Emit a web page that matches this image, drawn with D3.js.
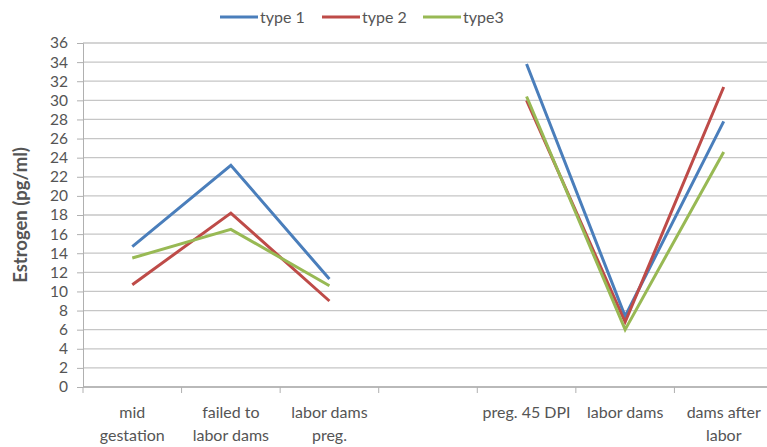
<!DOCTYPE html>
<html>
<head>
<meta charset="utf-8">
<script src="https://cdnjs.cloudflare.com/ajax/libs/d3/7.8.5/d3.min.js"></script>
<style>
  body { margin: 0; background: #fff; }
  text { font-family: Lato, "Open Sans", sans-serif; fill: #555; }
</style>
</head>
<body>
<script>
// categories (the blank one is the gap between the two groups)
var categories = ["mid\ngestation", "failed to\nlabor dams", "labor dams\npreg.", "", "preg. 45 DPI", "labor dams", "dams after\nlabor"];
var type1 = [14.7, 23.2, 11.3, null, 33.8, 7.4, 27.8];
var type2 = [10.7, 18.2, 9.0, null, 30.0, 6.8, 31.4];
var type3 = [13.5, 16.5, 10.6, null, 30.4, 6.0, 24.6];
var seriesNames = ["type 1", "type 2", "type3"];
var colors = ["#4a7ebb", "#be4b48", "#98b954"];
var yTicks = d3.range(0, 37, 2);

var W = 767, H = 447;
var margin = {top: 43, right: -6, bottom: 60, left: 83};
var width = W - margin.left - margin.right,
    height = H - margin.top - margin.bottom;

var svg = d3.select("body").append("svg").attr("width", W).attr("height", H);
var g = svg.append("g").attr("transform", "translate(" + margin.left + "," + margin.top + ")");

var x = d3.scaleBand().domain(d3.range(categories.length)).range([0, width]).padding(0);
var y = d3.scaleLinear().domain([0, 36]).range([height, 0]);

// gridlines
g.selectAll(".grid").data(yTicks).enter().append("line")
    .attr("x1", 0).attr("x2", width)
    .attr("y1", function(d) { return y(d); }).attr("y2", function(d) { return y(d); })
    .attr("stroke", "#c6c6c6").attr("stroke-width", 1.3);

// y axis
var yAxis = d3.axisLeft(y).tickValues(yTicks).tickSize(6).tickPadding(9);
var ya = g.append("g").call(yAxis);
ya.select(".domain").attr("stroke", "#b0b0b0");
ya.selectAll(".tick line").attr("stroke", "#b0b0b0");
ya.selectAll("text").style("font-size", "15.5px").style("font-family", "Lato, sans-serif").attr("fill", "#555");

// x axis baseline and boundary ticks
g.append("line").attr("x1", 0).attr("x2", width).attr("y1", height).attr("y2", height)
    .attr("stroke", "#b0b0b0").attr("stroke-width", 1.3);
var bounds = d3.range(categories.length + 1).map(function(i) { return i * x.step(); });
g.selectAll(".xt").data(bounds).enter().append("line")
    .attr("x1", function(d) { return d; }).attr("x2", function(d) { return d; })
    .attr("y1", height).attr("y2", height + 6)
    .attr("stroke", "#b0b0b0");

// category labels
var lab = g.selectAll(".xl").data(categories).enter().append("text")
    .attr("text-anchor", "middle")
    .attr("transform", function(d, i) { return "translate(" + (x(i) + x.bandwidth() / 2) + "," + (height + 31) + ")"; })
    .style("font-size", "16px").attr("fill", "#555");
lab.each(function(d) {
    var t = d3.select(this);
    d.split("\n").forEach(function(s, k) {
        t.append("tspan").attr("x", 0).attr("dy", k === 0 ? 0 : 22.5).text(s);
    });
});

// y axis title
svg.append("text")
    .attr("transform", "translate(27," + (margin.top + height / 2) + ") rotate(-90)")
    .attr("text-anchor", "middle")
    .style("font-size", "18.5px").style("font-weight", "bold").attr("fill", "#404040")
    .text("Estrogen (pg/ml)");

// lines
var line = d3.line()
    .defined(function(d) { return d != null; })
    .x(function(d, i) { return x(i) + x.bandwidth() / 2; })
    .y(function(d) { return y(d); });

[type1, type2, type3].forEach(function(s, i) {
    g.append("path").datum(s)
        .attr("d", line)
        .attr("fill", "none")
        .attr("stroke", colors[i])
        .attr("stroke-width", 3);
});

// legend
var legX = [220, 322, 423];
seriesNames.forEach(function(n, i) {
    svg.append("line").attr("x1", legX[i]).attr("x2", legX[i] + 38)
        .attr("y1", 17).attr("y2", 17)
        .attr("stroke", colors[i]).attr("stroke-width", 3);
    svg.append("text").attr("x", legX[i] + 40).attr("y", 22.5)
        .style("font-size", "16px").attr("fill", "#404040").text(n);
});
</script>
</body>
</html>
